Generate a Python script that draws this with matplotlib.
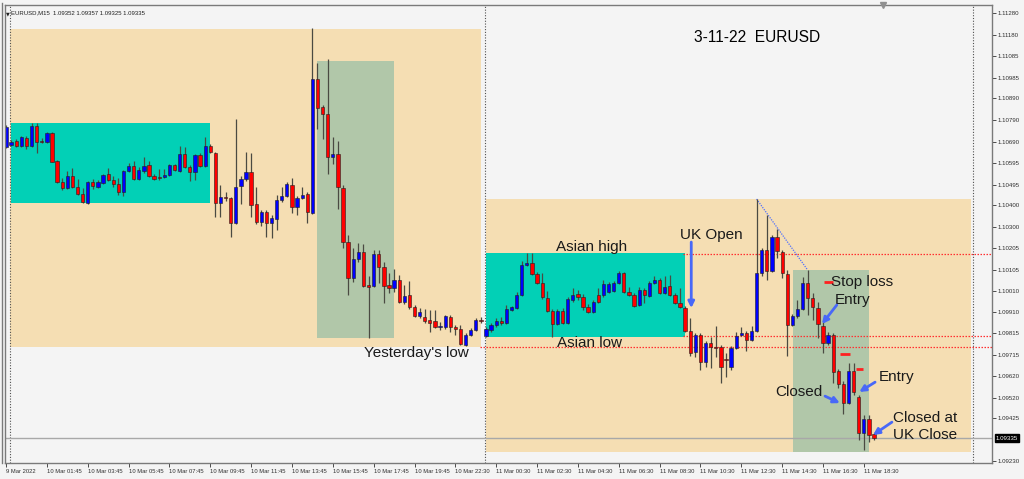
import matplotlib
matplotlib.use("Agg")
import matplotlib.pyplot as plt
from matplotlib.patches import Rectangle
import numpy as np

# EURUSD M15 candles, 9 Mar 23:45 -> 11 Mar 18:45
opens = [1.10667, 1.10676, 1.10694, 1.10672, 1.10707, 1.10672, 1.10763, 1.10694, 1.10690, 1.10730,
         1.10602, 1.10507, 1.10479, 1.10534, 1.10484, 1.10452, 1.10410, 1.10507, 1.10484, 1.10502,
         1.10543, 1.10516, 1.10497, 1.10461, 1.10556, 1.10580, 1.10520, 1.10556, 1.10584, 1.10534,
         1.10529, 1.10529, 1.10538, 1.10584, 1.10556, 1.10635, 1.10575, 1.10552, 1.10630, 1.10580,
         1.10672, 1.10639, 1.10410, 1.10438, 1.10433, 1.10319, 1.10488, 1.10520, 1.10552, 1.10406,
         1.10324, 1.10369, 1.10319, 1.10337, 1.10424, 1.10442, 1.10493, 1.10392, 1.10433, 1.10452,
         1.10365, 1.10978, 1.10850, 1.10818, 1.10621, 1.10635, 1.10479, 1.10232, 1.10067, 1.10154,
         1.10186, 1.10035, 1.10030, 1.10177, 1.10118, 1.10035, 1.10021, 1.10058, 1.09958, 1.09989,
         1.09935, 1.09894, 1.09889, 1.09875, 1.09871, 1.09843, 1.09843, 1.09889, 1.09843, 1.09834,
         1.09761, 1.09806, 1.09829, 1.09875, 1.09802, 1.09829, 1.09852, 1.09871, 1.09862, 1.09921,
         1.09930, 1.09989, 1.10127, 1.10136, 1.10085, 1.10044, 1.09976, 1.09917, 1.09857, 1.09917,
         1.09862, 1.09967, 1.09994, 1.09980, 1.09935, 1.09912, 1.09989, 1.09989, 1.10003, 1.10008,
         1.10044, 1.10090, 1.10003, 1.09989, 1.09944, 1.10012, 1.09985, 1.10044, 1.10058, 1.09998,
         1.10030, 1.09989, 1.09953, 1.09930, 1.09825, 1.09728, 1.09806, 1.09683, 1.09770, 1.09751,
         1.09751, 1.09697, 1.09660, 1.09747, 1.09806, 1.09816, 1.09784, 1.09825, 1.10090, 1.10195,
         1.10099, 1.10255, 1.10186, 1.10085, 1.09852, 1.09894, 1.09926, 1.10044, 1.09976, 1.09930,
         1.09848, 1.09770, 1.09806, 1.09642, 1.09582, 1.09495, 1.09642, 1.09523, 1.09358, 1.09422,
         1.09352]
highs = [1.10767, 1.10699, 1.10704, 1.10717, 1.10717, 1.10776, 1.10776, 1.10707, 1.10735, 1.10735,
         1.10607, 1.10524, 1.10556, 1.10570, 1.10520, 1.10479, 1.10511, 1.10520, 1.10516, 1.10543,
         1.10570, 1.10534, 1.10524, 1.10561, 1.10593, 1.10602, 1.10575, 1.10621, 1.10602, 1.10543,
         1.10565, 1.10565, 1.10589, 1.10589, 1.10672, 1.10667, 1.10584, 1.10635, 1.10639, 1.10712,
         1.10681, 1.10644, 1.10493, 1.10461, 1.10438, 1.10795, 1.10534, 1.10644, 1.10639, 1.10484,
         1.10378, 1.10378, 1.10356, 1.10447, 1.10484, 1.10507, 1.10524, 1.10442, 1.10484, 1.10461,
         1.11211, 1.11051, 1.10859, 1.11070, 1.10712, 1.10694, 1.10493, 1.10264, 1.10204, 1.10227,
         1.10223, 1.10076, 1.10195, 1.10195, 1.10141, 1.10090, 1.10108, 1.10081, 1.10035, 1.10053,
         1.09944, 1.09930, 1.09926, 1.09921, 1.09921, 1.09866, 1.09898, 1.09898, 1.09852, 1.09852,
         1.09816, 1.09839, 1.09884, 1.09889, 1.09843, 1.09862, 1.09884, 1.09889, 1.09944, 1.09940,
         1.10003, 1.10145, 1.10182, 1.10182, 1.10095, 1.10090, 1.10008, 1.09926, 1.09926, 1.09930,
         1.09980, 1.10021, 1.10012, 1.09994, 1.09949, 1.09967, 1.10021, 1.10058, 1.10049, 1.10053,
         1.10099, 1.10095, 1.10026, 1.09998, 1.10026, 1.10021, 1.10053, 1.10076, 1.10067, 1.10076,
         1.10081, 1.09998, 1.10021, 1.09940, 1.09884, 1.09816, 1.09816, 1.09779, 1.09797, 1.09848,
         1.09761, 1.09724, 1.09756, 1.09820, 1.09843, 1.09825, 1.09848, 1.10429, 1.10204, 1.10356,
         1.10264, 1.10292, 1.10195, 1.10104, 1.09903, 1.09967, 1.10072, 1.10104, 1.09998, 1.09958,
         1.09866, 1.09820, 1.09816, 1.09651, 1.09596, 1.09678, 1.09678, 1.09532, 1.09440, 1.09440,
         1.09357]
lows = [1.10662, 1.10672, 1.10667, 1.10667, 1.10658, 1.10667, 1.10639, 1.10685, 1.10685, 1.10598,
        1.10502, 1.10470, 1.10474, 1.10479, 1.10447, 1.10410, 1.10406, 1.10474, 1.10479, 1.10497,
        1.10511, 1.10484, 1.10447, 1.10442, 1.10552, 1.10516, 1.10516, 1.10547, 1.10529, 1.10516,
        1.10516, 1.10524, 1.10534, 1.10556, 1.10552, 1.10570, 1.10511, 1.10516, 1.10575, 1.10575,
        1.10639, 1.10346, 1.10346, 1.10420, 1.10255, 1.10315, 1.10406, 1.10511, 1.10346, 1.10315,
        1.10305, 1.10255, 1.10250, 1.10287, 1.10415, 1.10438, 1.10365, 1.10356, 1.10429, 1.10319,
        1.10360, 1.10749, 1.10704, 1.10543, 1.10589, 1.10383, 1.10204, 1.09989, 1.10049, 1.10141,
        1.10026, 1.09793, 1.10026, 1.10044, 1.09953, 1.09998, 1.10003, 1.09953, 1.09949, 1.09926,
        1.09889, 1.09884, 1.09862, 1.09820, 1.09839, 1.09829, 1.09834, 1.09820, 1.09806, 1.09761,
        1.09756, 1.09802, 1.09825, 1.09862, 1.09797, 1.09820, 1.09843, 1.09852, 1.09857, 1.09917,
        1.09926, 1.09985, 1.10122, 1.10081, 1.10040, 1.09971, 1.09912, 1.09797, 1.09852, 1.09857,
        1.09857, 1.09958, 1.09967, 1.09921, 1.09907, 1.09907, 1.09953, 1.09980, 1.09998, 1.10003,
        1.10040, 1.09998, 1.09985, 1.09935, 1.09940, 1.09953, 1.09980, 1.10040, 1.09994, 1.09994,
        1.09985, 1.09949, 1.09930, 1.09820, 1.09710, 1.09706, 1.09646, 1.09660, 1.09655, 1.09706,
        1.09587, 1.09614, 1.09646, 1.09742, 1.09802, 1.09733, 1.09779, 1.09820, 1.10076, 1.10058,
        1.10095, 1.10159, 1.10067, 1.09710, 1.09848, 1.09884, 1.09921, 1.09898, 1.09875, 1.09793,
        1.09724, 1.09761, 1.09587, 1.09564, 1.09445, 1.09491, 1.09532, 1.09326, 1.09280, 1.09317,
        1.09325]
closes = [1.10758, 1.10690, 1.10672, 1.10712, 1.10672, 1.10763, 1.10690, 1.10690, 1.10730, 1.10598,
          1.10507, 1.10479, 1.10534, 1.10484, 1.10452, 1.10415, 1.10507, 1.10488, 1.10507, 1.10538,
          1.10516, 1.10497, 1.10461, 1.10556, 1.10580, 1.10520, 1.10561, 1.10580, 1.10534, 1.10520,
          1.10526, 1.10538, 1.10584, 1.10561, 1.10635, 1.10575, 1.10552, 1.10630, 1.10580, 1.10672,
          1.10644, 1.10410, 1.10438, 1.10433, 1.10319, 1.10484, 1.10520, 1.10552, 1.10401, 1.10324,
          1.10369, 1.10319, 1.10342, 1.10424, 1.10442, 1.10497, 1.10392, 1.10433, 1.10447, 1.10369,
          1.10978, 1.10845, 1.10818, 1.10621, 1.10635, 1.10484, 1.10232, 1.10067, 1.10154, 1.10186,
          1.10030, 1.10026, 1.10177, 1.10118, 1.10030, 1.10021, 1.10058, 1.09958, 1.09985, 1.09935,
          1.09894, 1.09912, 1.09871, 1.09862, 1.09843, 1.09848, 1.09894, 1.09843, 1.09834, 1.09765,
          1.09806, 1.09829, 1.09875, 1.09873, 1.09834, 1.09852, 1.09871, 1.09862, 1.09926, 1.09935,
          1.09989, 1.10127, 1.10136, 1.10085, 1.10044, 1.09980, 1.09917, 1.09857, 1.09917, 1.09862,
          1.09971, 1.09989, 1.09980, 1.09935, 1.09912, 1.09958, 1.09958, 1.10040, 1.10040, 1.10044,
          1.10090, 1.10003, 1.09989, 1.09940, 1.10012, 1.09989, 1.10044, 1.10058, 1.09998, 1.10026,
          1.09989, 1.09953, 1.09935, 1.09825, 1.09724, 1.09806, 1.09683, 1.09770, 1.09751, 1.09749,
          1.09660, 1.09692, 1.09747, 1.09802, 1.09816, 1.09784, 1.09825, 1.10090, 1.10195, 1.10099,
          1.10255, 1.10191, 1.10090, 1.09852, 1.09894, 1.09926, 1.10044, 1.09976, 1.09935, 1.09857,
          1.09770, 1.09806, 1.09637, 1.09582, 1.09495, 1.09642, 1.09546, 1.09358, 1.09422, 1.09349,
          1.09335]

# axis labels
price_ticks = [1.11280, 1.11180, 1.11085, 1.10985, 1.10890, 1.10790, 1.10690, 1.10595, 1.10495,
               1.10400, 1.10300, 1.10205, 1.10105, 1.10010, 1.09910, 1.09815, 1.09715, 1.09620,
               1.09520, 1.09425, 1.09230]
time_labels = ['9 Mar 2022', '10 Mar 01:45', '10 Mar 03:45', '10 Mar 05:45', '10 Mar 07:45',
               '10 Mar 09:45', '10 Mar 11:45', '10 Mar 13:45', '10 Mar 15:45', '10 Mar 17:45',
               '10 Mar 19:45', '10 Mar 22:30', '11 Mar 00:30', '11 Mar 02:30', '11 Mar 04:30',
               '11 Mar 06:30', '11 Mar 08:30', '11 Mar 10:30', '11 Mar 12:30', '11 Mar 14:30',
               '11 Mar 16:30', '11 Mar 18:30']
time_label_bars = [0, 8, 16, 24, 32, 40, 48, 56, 64, 72, 80, 88, 96, 104, 112, 120, 128, 136,
                   144, 152, 160, 168]

# session boxes: (start bar, end bar, low price, high price)
day_boxes = [(0.8, 93.0, 1.09751, 1.11207), (94.0, 189.0, 1.09271, 1.10429)]
asian_boxes = [(1.0, 39.95, 1.10410, 1.10776), (94.0, 133.0, 1.09797, 1.10182)]
london_boxes = [(60.9, 76.0, 1.09793, 1.11060), (154.1, 169.0, 1.09271, 1.10104)]

# levels
asian_high = 1.10177
asian_low = 1.09802
yesterday_low = 1.09751
last_price = 1.09335
day_separators = [0.8, 93.8, 189.4]

fig = plt.figure(figsize=(10.24, 4.79), dpi=100, facecolor='#f4f4f4')
ax = fig.add_axes([5/1024, 1 - 463/479, 987/1024, 458/479])
ax.set_facecolor('#f4f4f4')

# boxes
for x0, x1, y0, y1 in day_boxes:
    ax.add_patch(Rectangle((x0, y0), x1 - x0, y1 - y0, facecolor='#f5deb3', edgecolor='none', zorder=0.3))
for x0, x1, y0, y1 in asian_boxes:
    ax.add_patch(Rectangle((x0, y0), x1 - x0, y1 - y0, facecolor='#02d0b6', edgecolor='none', zorder=0.4))
for x0, x1, y0, y1 in london_boxes:
    ax.add_patch(Rectangle((x0, y0), x1 - x0, y1 - y0, facecolor='#b1c7a9', edgecolor='none', zorder=0.4))

# period separators
for s in day_separators:
    ax.axvline(s, color='#505050', lw=0.8, ls=(0, (1, 1.5)), zorder=0.5)

# levels
ax.plot([132.6, 200], [asian_high, asian_high], color='#ff3030', lw=0.9, ls=(0, (1.2, 1.2)), zorder=0.6)
ax.plot([132.6, 200], [asian_low, asian_low], color='#ff3030', lw=0.9, ls=(0, (1.2, 1.2)), zorder=0.6)
ax.plot([92.8, 200], [yesterday_low, yesterday_low], color='#ff3030', lw=0.9, ls=(0, (1.2, 1.2)), zorder=0.6)
ax.axhline(last_price, color='#a8a8a8', lw=1, zorder=0.6)

# trend line from the high
ax.plot([147, 157], [highs[147], highs[157]], color='#5070ff', lw=0.9, ls=(0, (1, 1)), zorder=0.7)

# candles
x = np.arange(len(opens))
o = np.array(opens)
c = np.array(closes)
up = c >= o
ax.vlines(x, lows, highs, color='#4a4a42', lw=0.9, zorder=1)
body_lo = np.minimum(o, c)
body_h = np.maximum(np.abs(c - o), 0.00002)
ax.bar(x[up], body_h[up], bottom=body_lo[up], width=0.64, color='#0000ff', edgecolor='#202020', lw=0.4, zorder=2)
ax.bar(x[~up], body_h[~up], bottom=body_lo[~up], width=0.64, color='#ff0000', edgecolor='#202020', lw=0.4, zorder=2)

# stop loss marks
for x0, x1, y in [(160.2, 162.0, 1.10049), (163.4, 165.2, 1.09720), (166.5, 167.8, 1.09651)]:
    ax.plot([x0, x1], [y, y], color='#ff2020', lw=2, solid_capstyle='butt', zorder=3)

# text notes
font = 'Liberation Sans'
ax.text(134.7, 1.11170, '3-11-22  EURUSD', fontsize=11.2, family=font, va='center', ha='left', zorder=5)
notes = [(107.7, 1.10210, 'Asian high'), (107.9, 1.09770, 'Asian low'), (132.0, 1.10264, 'UK Open'),
         (161.6, 1.10049, 'Stop loss'), (162.4, 1.09967, 'Entry'), (150.6, 1.09546, 'Closed'),
         (171.0, 1.09614, 'Entry'), (173.7, 1.09427, 'Closed at'), (173.7, 1.09349, 'UK Close'),
         (70.1, 1.09724, "Yesterday's low")]
for nx, ny, t in notes:
    ax.text(nx, ny, t, fontsize=11, family=font, va='center', ha='left', color='#1a1a1a', zorder=5)

# arrows
arrows = [((134.2, 1.10232), (134.2, 1.09930)), ((162.7, 1.09944), (159.8, 1.09857)),
          ((160.4, 1.09527), (163.3, 1.09495)), ((170.2, 1.09591), (167.1, 1.09546)),
          ((173.5, 1.09408), (169.8, 1.09349))]
for start, end in arrows:
    ax.annotate('', xy=end, xytext=start,
                arrowprops=dict(arrowstyle='-|>', color='#4868f8', lw=2, mutation_scale=9,
                                shrinkA=0, shrinkB=0), zorder=5)

# axes
ax.set_xlim(-0.2, 193.1)
ax.set_ylim(1.09221, 1.11317)
ax.yaxis.tick_right()
ax.set_yticks(price_ticks)
ax.set_yticklabels(['%.5f' % p for p in price_ticks], fontsize=4.4, family=font)
ax.set_xticks(time_label_bars)
ax.set_xticklabels(time_labels, fontsize=4.2, family=font, ha='left')
ax.tick_params(axis='both', length=3, width=0.6, colors='#303030', pad=1.2)
for sp in ax.spines.values():
    sp.set_color('#7a7a7a')
    sp.set_linewidth(1)

# last price tag
ax.text(1.004, last_price, '%.5f' % last_price, transform=ax.get_yaxis_transform(), fontsize=4.4,
        family=font, color='white', va='center', ha='left',
        bbox=dict(boxstyle='square,pad=0.2', fc='black', ec='black'), zorder=6, clip_on=False)

# chart header and shift marker
ax.text(0.0005, 0.987, '\u25bc', transform=ax.transAxes, fontsize=3.5, va='top', ha='left', color='#202020')
ax.text(0.0065, 0.989, 'EURUSD,M15  1.09352 1.09357 1.09325 1.09335', transform=ax.transAxes,
        fontsize=4.3, family=font, va='top', ha='left', color='#202020')
ax.plot([171.8], [1.11317], marker='v', color='#909090', markersize=5, clip_on=False, zorder=6)

fig.add_artist(plt.Line2D([2/1024, 2/1024], [1 - 463/479, 1 - 3/479], color='#7a7a7a', lw=1))

fig.savefig('out.png', dpi=100, facecolor=fig.get_facecolor())
